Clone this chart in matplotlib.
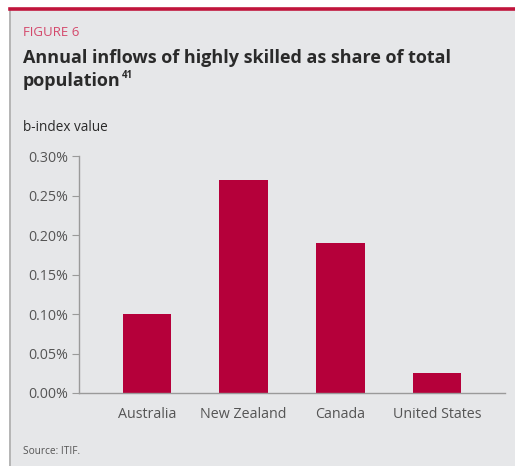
import matplotlib.pyplot as plt
from matplotlib.lines import Line2D
from matplotlib.patches import Rectangle
from matplotlib.ticker import FuncFormatter

countries = ["Australia", "New Zealand", "Canada", "United States"]
values = [0.10, 0.27, 0.19, 0.025]
yticks = [0.0, 0.05, 0.10, 0.15, 0.20, 0.25, 0.30]

W, H = 515, 466
fig = plt.figure(figsize=(W / 100, H / 100), dpi=100)
fig.patch.set_facecolor("white")
plt.rcParams["font.family"] = ["Open Sans", "DejaVu Sans"]

# grey panel + border lines
fig.add_artist(Rectangle((11 / W, 0), 1 - 11 / W, 1 - 10 / H, transform=fig.transFigure,
                         facecolor="#e6e7e9", edgecolor="none", zorder=0))
fig.add_artist(Line2D([10 / W, 10 / W], [0, 1 - 10 / H], transform=fig.transFigure,
                      color="#a8a8a8", lw=1.2))
fig.add_artist(Line2D([10 / W, 1], [1 - 8.5 / H, 1 - 8.5 / H], transform=fig.transFigure,
                      color="#c0143c", lw=2.6))

ax = fig.add_axes([79 / W, 1 - 393 / H, (505 - 79) / W, (393 - 156) / H])
ax.set_facecolor("none")
ax.bar(range(len(countries)), values, width=0.5, color="#b5003a", zorder=2)
ax.set_xlim(-0.70, 3.70)
ax.set_ylim(0, 0.30)
ax.set_yticks(yticks)
ax.yaxis.set_major_formatter(FuncFormatter(lambda v, p: f"{v:.2f}%"))
ax.set_xticks(range(len(countries)))
ax.set_xticklabels(countries)
for s in ["top", "right"]:
    ax.spines[s].set_visible(False)
for s in ["left", "bottom"]:
    ax.spines[s].set_color("#9a9a9a")
    ax.spines[s].set_linewidth(1.0)
ax.tick_params(axis="y", length=5, color="#9a9a9a", labelsize=10.3, labelcolor="#555555", pad=3)
ax.tick_params(axis="x", length=0, labelsize=10.3, labelcolor="#555555", pad=10)

fig.text(23 / W, 1 - 33 / H, "FIGURE 6", fontsize=9.5, color="#d4486b", va="center")
fig.text(23 / W, 1 - 58 / H, "Annual inflows of highly skilled as share of total",
         fontsize=13, fontweight="bold", color="#2a2a2a", va="center")
pop = fig.text(23 / W, 1 - 81 / H, "population",
               fontsize=13, fontweight="bold", color="#2a2a2a", va="center")
# footnote marker
fig.add_artist(plt.Annotation("41", xy=(1, 0.52), xycoords=pop, xytext=(1, 0),
                              textcoords="offset points", fontsize=7, fontweight="bold",
                              color="#2a2a2a", va="bottom", ha="left"))
fig.text(23 / W, 1 - 127 / H, "b-index value", fontsize=9.8, color="#2a2a2a", va="center")
fig.text(23 / W, 1 - 452 / H, "Source: ITIF.", fontsize=7.3, color="#555555", va="center")

fig.savefig("out.png", dpi=100)
